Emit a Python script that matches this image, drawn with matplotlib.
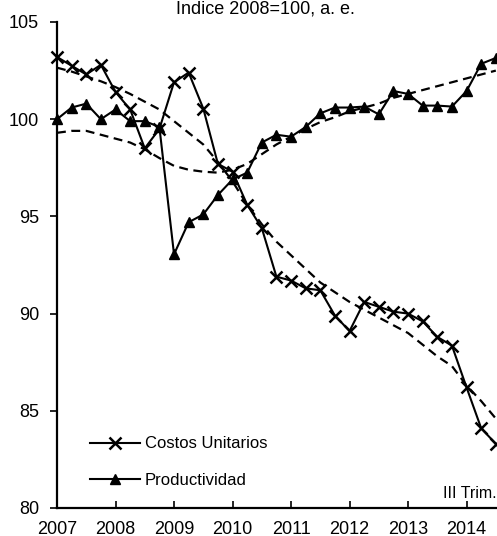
import numpy as np
import matplotlib.pyplot as plt
from matplotlib import rcParams

rcParams['font.family'] = ['Liberation Sans', 'DejaVu Sans']

# trimestres 2007.I - 2014.III
trimestres = 2007 + 0.25 * np.arange(31)

costos = [103.2, 102.75, 102.3, 102.8, 101.4, 100.5, 98.5, 99.5,
          101.9, 102.4, 100.55, 97.7, 97.3, 95.6, 94.4, 91.9,
          91.7, 91.3, 91.2, 89.9, 89.1, 90.6, 90.35, 90.1,
          90.0, 89.6, 88.8, 88.35, 86.2, 84.1, 83.3]
productividad = [100.0, 100.6, 100.8, 100.0, 100.5, 99.9, 99.9, 99.6,
                 93.05, 94.7, 95.1, 96.1, 96.9, 97.25, 98.8, 99.2,
                 99.1, 99.6, 100.3, 100.6, 100.6, 100.65, 100.25, 101.45,
                 101.3, 100.7, 100.7, 100.65, 101.45, 102.85, 103.15]

# tendencias (lineas discontinuas)
costos_tend = [102.65, 102.45, 102.2, 101.95, 101.65, 101.3, 100.9, 100.5,
               99.9, 99.3, 98.7, 97.8, 96.8, 95.6, 94.6, 93.7,
               93.0, 92.3, 91.6, 91.1, 90.6, 90.2, 89.8, 89.4,
               89.0, 88.4, 87.8, 87.3, 86.3, 85.5, 84.6]
prod_tend = [99.3, 99.4, 99.4, 99.2, 99.0, 98.8, 98.45, 98.0,
             97.6, 97.4, 97.3, 97.25, 97.4, 97.7, 98.2, 98.7,
             99.1, 99.5, 99.85, 100.1, 100.4, 100.6, 100.8, 101.1,
             101.3, 101.5, 101.7, 101.9, 102.1, 102.3, 102.5]

fig = plt.figure(figsize=(4.97, 5.36), dpi=100)
ax = fig.add_axes([57 / 497, 28 / 536, 1 - 57 / 497, 486 / 536])

ax.plot(trimestres, costos_tend, color='black', lw=1.6, ls=(0, (4, 2.5)))
ax.plot(trimestres, prod_tend, color='black', lw=1.6, ls=(0, (4, 2.5)))
ax.plot(trimestres, costos, color='black', lw=1.5, marker='x', ms=8, mew=1.8,
        label='Costos Unitarios', clip_on=False)
ax.plot(trimestres, productividad, color='black', lw=1.5, marker='^', ms=7,
        label='Productividad', clip_on=False)

ax.set_xlim(2007, 2014.52)
ax.set_ylim(80, 105)
ax.set_xticks(range(2007, 2015))
ax.set_yticks(range(80, 106, 5))
ax.tick_params(axis='both', labelsize=13, color='black', width=1.2)
ax.tick_params(axis='x', direction='in', length=5, pad=9)
ax.tick_params(axis='y', direction='out', length=5, pad=8)
for s in ['top', 'right']:
    ax.spines[s].set_visible(False)
for s in ['left', 'bottom']:
    ax.spines[s].set_linewidth(1.6)

ax.legend(loc='lower left', bbox_to_anchor=(0.04, 0.01), frameon=False,
          fontsize=12, handlelength=3.0, handletextpad=0.3, labelspacing=1.3)

ax.text(1.0, 0.015, 'III Trim.', transform=ax.transAxes, ha='right',
        va='bottom', fontsize=11.5)

fig.text(0.535, 1 - 14 / 536, 'Índice 2008=100, a. e.', ha='center',
         va='baseline', fontsize=13)

fig.savefig('out.png', dpi=100)
